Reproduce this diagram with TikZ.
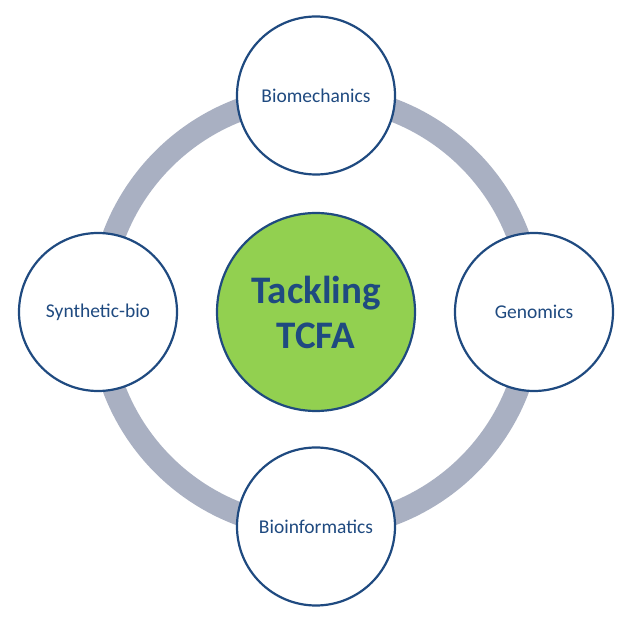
\documentclass[tikz,border=0pt]{standalone}
\usepackage{fontspec}
\setmainfont{Carlito}
\usepackage{tikz}
\definecolor{ringgray}{HTML}{A9B0C2}
\definecolor{darkblue}{HTML}{1F4A80}
\definecolor{hubgreen}{HTML}{92D050}
\tikzset{
  topic/.style={circle,draw=darkblue,line width=2.2pt,fill=white,minimum size=158pt,inner sep=0pt,text=darkblue,font=\fontsize{19.5}{23}\selectfont},
  hub/.style={circle,draw=darkblue,line width=2.2pt,fill=hubgreen,minimum size=198pt,inner sep=0pt,text=darkblue,align=center,font=\fontsize{39}{45}\selectfont\bfseries}
}

\begin{document}
\begin{tikzpicture}[x=1pt,y=1pt]
\useasboundingbox (0,0) rectangle (630,624);
\coordinate (c) at (316,312);
\draw[ringgray,line width=23pt] (c) circle (216);
\node[hub] (tcfa) at (c) {Tackling\\TCFA};
\node[topic] (bm) at (316,528.5) {Biomechanics};
\node[topic] (gen) at (534,312) {Genomics};
\node[topic] (bi) at (316,97.5) {Bioinformatics};
\node[topic] (syn) at (98,312) {Synthetic-bio};
\end{tikzpicture}
\end{document}
